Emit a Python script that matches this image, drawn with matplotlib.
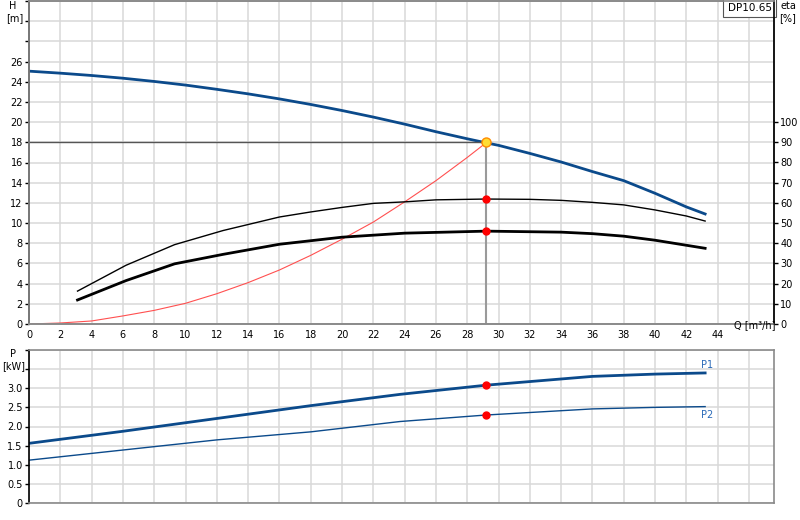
import matplotlib
matplotlib.use('Agg')
import matplotlib.pyplot as plt

plt.rcParams['font.family'] = ['DejaVu Sans']

# Pompkarakteristiek (Q in m3/h, H in m)
q_h = [0, 2, 4, 6, 8, 10, 12, 14, 16, 18, 20, 22, 24, 26, 28, 29.2, 30, 32, 34, 36, 38, 40, 42, 43.2]
h = [25.05, 24.85, 24.62, 24.35, 24.03, 23.67, 23.25, 22.8, 22.3, 21.75, 21.15, 20.5, 19.8,
     19.05, 18.35, 17.95, 17.7, 16.9, 16.05, 15.1, 14.2, 12.95, 11.6, 10.9]

# Rendement (eta in %)
q_eta = [3.1, 6.2, 9.3, 12.4, 16, 18, 20, 22, 24, 26, 29.2, 32, 34, 36, 38, 40, 42, 43.2]
eta_pomp = [16.3, 29.1, 39.3, 46.3, 53, 55.5, 57.75, 59.75, 60.5, 61.5, 61.9, 61.75, 61.25,
            60.25, 59, 56.5, 53.5, 51]
q_eta2 = [3.1, 6.2, 9.3, 12.4, 16, 20, 24, 29.2, 34, 36, 38, 40, 43.2]
eta_tot = [11.9, 21.5, 29.8, 34.5, 39.5, 43, 45, 46, 45.5, 44.75, 43.5, 41.5, 37.5]

# Systeemcurve
q_sys = [0, 2, 4, 6, 8, 10, 12, 14, 16, 18, 20, 22, 24, 26, 28, 29.2]
h_sys = [0, 0.1, 0.3, 0.8, 1.35, 2.05, 3.0, 4.1, 5.35, 6.8, 8.4, 10.1, 12.1, 14.2, 16.5, 17.95]

# Vermogen (kW)
q_p = [0, 6, 12, 18, 23.7, 29.2, 36, 40, 43.2]
p1 = [1.56, 1.875, 2.21, 2.545, 2.84, 3.08, 3.31, 3.37, 3.40]
p2 = [1.12, 1.385, 1.65, 1.86, 2.13, 2.30, 2.46, 2.50, 2.52]

# Werkpunt
q_wp = 29.2
h_wp = 18.0
eta_wp = [61.9, 46.0]
p_wp = [3.08, 2.30]

blauw = '#0b4a8b'
grid_kleur = '#d8d8d8'
fs = 7

fig = plt.figure(figsize=(8, 5.2), dpi=100)
ax = fig.add_axes([29 / 800, 1 - 324 / 520, 745 / 800, 323 / 520])
ax2 = ax.twinx()
axp = fig.add_axes([29 / 800, 1 - 503 / 520, 745 / 800, 153 / 520])

# Bovenste grafiek
ax.set_xlim(0, 47.6)
ax.set_ylim(0, 32)
ax2.set_ylim(0, 160)
ax.set_xticks(range(0, 47, 2))
ax.set_xticklabels([str(v) if v <= 44 else '' for v in range(0, 47, 2)])
ax.set_yticks(range(0, 33, 2))
ax.set_yticklabels([str(v) if v <= 26 else '' for v in range(0, 33, 2)])
ax2.set_yticks(range(0, 101, 10))
ax.grid(True, color=grid_kleur, linewidth=1.1)
ax.set_axisbelow(True)

ax.plot(q_sys, h_sys, color='#ff5050', linewidth=0.8)
ax.plot(q_h, h, color=blauw, linewidth=2)
ax2.plot(q_eta, eta_pomp, color='black', linewidth=1)
ax2.plot(q_eta2, eta_tot, color='black', linewidth=2)

ax.plot([0, q_wp], [h_wp, h_wp], color='#555555', linewidth=1)
ax.plot([q_wp, q_wp], [0, h_wp], color='#9a9a9a', linewidth=1.5)
ax2.plot([q_wp, q_wp], eta_wp, 'o', color='red', markersize=5)
ax.plot(q_wp, h_wp, 'o', markerfacecolor='#ffdd33', markeredgecolor='#ff8c00',
        markersize=6.5, markeredgewidth=1, zorder=5)

ax.text(0.997, 0.995, 'DP10.65', transform=ax.transAxes, ha='right', va='top', fontsize=fs + 0.5,
        bbox=dict(boxstyle='square,pad=0.45', facecolor='white', edgecolor='#555555', linewidth=0.8))

# Onderste grafiek
axp.set_xlim(0, 47.6)
axp.set_ylim(0, 4.0)
axp.set_xticks(range(0, 47, 2))
axp.set_xticklabels([])
axp.set_yticks([0, 0.5, 1.0, 1.5, 2.0, 2.5, 3.0, 3.5, 4.0])
axp.set_yticklabels(['0', '0.5', '1.0', '1.5', '2.0', '2.5', '3.0', '', ''])
axp.grid(True, color=grid_kleur, linewidth=1.1)
axp.set_axisbelow(True)

axp.plot(q_p, p1, color=blauw, linewidth=2)
axp.plot(q_p, p2, color=blauw, linewidth=1)
axp.plot([q_wp, q_wp], p_wp, 'o', color='red', markersize=5)
axp.text(43.3, p1[-1] + 0.08, 'P1', color='#2a6ab8', fontsize=fs, ha='center', va='bottom')
axp.text(43.3, p2[-1] - 0.08, 'P2', color='#2a6ab8', fontsize=fs, ha='center', va='top')

# Assen opmaken
for a in [ax, ax2, axp]:
    a.tick_params(labelsize=fs, length=3, width=1, pad=1.5)
    for s in a.spines.values():
        s.set_color('#8a8a8a')
        s.set_linewidth(1.2)
for a in [ax, axp]:
    a.spines['left'].set_color('black')
ax2.spines['right'].set_color('black')
ax.tick_params(axis='x', length=0, pad=4)
axp.tick_params(axis='x', length=0)

fig.text(13 / 800, 1 - 6 / 520, 'H', fontsize=fs, ha='center', va='center')
fig.text(15 / 800, 1 - 18 / 520, '[m]', fontsize=fs, ha='center', va='center')
fig.text(788 / 800, 1 - 6 / 520, 'eta', fontsize=fs, ha='center', va='center')
fig.text(788 / 800, 1 - 18 / 520, '[%]', fontsize=fs, ha='center', va='center')
fig.text(734 / 800, 1 - 325 / 520, 'Q [m³/h]', fontsize=fs, ha='left', va='center')
fig.text(13 / 800, 1 - 354 / 520, 'P', fontsize=fs, ha='center', va='center')
fig.text(14 / 800, 1 - 366 / 520, '[kW]', fontsize=fs, ha='center', va='center')

fig.savefig('out.png', dpi=100)
